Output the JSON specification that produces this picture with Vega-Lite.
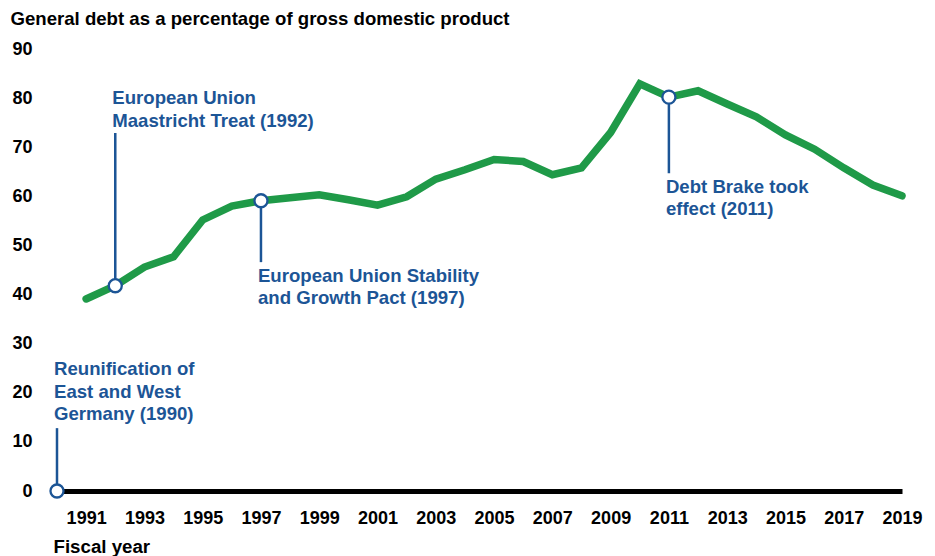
{
  "$schema": "https://vega.github.io/schema/vega-lite/v6.json",
  "autosize": "none",
  "width": 845,
  "height": 442,
  "padding": {"left": 57, "top": 49, "right": 33, "bottom": 65},
  "background": "white",
  "config": {
    "view": {"stroke": null},
    "font": "Liberation Sans",
    "text": {"font": "Liberation Sans"}
  },
  "datasets": {
    "debt": [
      {"year": 1991, "debt": 39.1}, {"year": 1992, "debt": 41.8}, {"year": 1993, "debt": 45.6},
      {"year": 1994, "debt": 47.7}, {"year": 1995, "debt": 55.2}, {"year": 1996, "debt": 58.0},
      {"year": 1997, "debt": 59.1}, {"year": 1998, "debt": 59.7}, {"year": 1999, "debt": 60.3},
      {"year": 2000, "debt": 59.3}, {"year": 2001, "debt": 58.2}, {"year": 2002, "debt": 59.9},
      {"year": 2003, "debt": 63.5}, {"year": 2004, "debt": 65.4}, {"year": 2005, "debt": 67.5},
      {"year": 2006, "debt": 67.1}, {"year": 2007, "debt": 64.4}, {"year": 2008, "debt": 65.8},
      {"year": 2009, "debt": 73.0}, {"year": 2010, "debt": 82.9}, {"year": 2011, "debt": 80.2},
      {"year": 2012, "debt": 81.5}, {"year": 2013, "debt": 78.8}, {"year": 2014, "debt": 76.2},
      {"year": 2015, "debt": 72.5}, {"year": 2016, "debt": 69.6}, {"year": 2017, "debt": 65.8},
      {"year": 2018, "debt": 62.3}, {"year": 2019, "debt": 60.1}
    ],
    "events": [
      {"year": 1990, "value": 0, "lineEnd": 12.8, "textY": 23.6, "label": "Reunification of|East and West|Germany (1990)"},
      {"year": 1992, "value": 41.8, "lineEnd": 72.9, "textY": 78.8, "label": "European Union|Maastricht Treat (1992)"},
      {"year": 1997, "value": 59.1, "lineEnd": 46.6, "textY": 42.6, "label": "European Union Stability|and Growth Pact (1997)"},
      {"year": 2011, "value": 80.2, "lineEnd": 64.7, "textY": 60.7, "label": "Debt Brake took|effect (2011)"}
    ]
  },
  "layer": [
    {
      "data": {"name": "debt"},
      "mark": {"type": "line", "color": "#1f9a48", "strokeWidth": 7.5, "strokeCap": "round", "strokeJoin": "miter"},
      "encoding": {
        "x": {
          "field": "year", "type": "quantitative",
          "scale": {"domain": [1990, 2019], "nice": false, "zero": false},
          "axis": {
            "values": [1991, 1993, 1995, 1997, 1999, 2001, 2003, 2005, 2007, 2009, 2011, 2013, 2015, 2017, 2019],
            "format": "d",
            "grid": false, "ticks": false, "tickSize": 0,
            "domain": true, "domainColor": "#000000", "domainWidth": 5, "domainCap": "butt",
            "labelFont": "Liberation Sans", "labelFontWeight": "bold", "labelFontSize": 18, "labelColor": "#000000",
            "labelPadding": 18, "labelFlush": false, "labelOverlap": false,
            "title": "Fiscal year",
            "titleFont": "Liberation Sans", "titleFontWeight": "bold", "titleFontSize": 18.7, "titleColor": "#000000",
            "titleAnchor": "start", "titleAlign": "left", "titleBaseline": "alphabetic",
            "titleX": -4, "titleY": 61
          }
        },
        "y": {
          "field": "debt", "type": "quantitative",
          "scale": {"domain": [0, 90], "nice": false},
          "axis": {
            "values": [0, 10, 20, 30, 40, 50, 60, 70, 80, 90],
            "grid": false, "ticks": false, "tickSize": 0, "domain": false,
            "labelFont": "Liberation Sans", "labelFontWeight": "bold", "labelFontSize": 18, "labelColor": "#000000",
            "labelPadding": 25, "labelBaseline": "middle",
            "title": "General debt as a percentage of gross domestic product",
            "titleFont": "Liberation Sans", "titleFontWeight": "bold", "titleFontSize": 18.6, "titleColor": "#000000",
            "titleAngle": 0, "titleAlign": "left", "titleBaseline": "alphabetic",
            "titleX": -47, "titleY": -25
          }
        }
      }
    },
    {
      "data": {"name": "events"},
      "mark": {"type": "rule", "color": "#1c5596", "strokeWidth": 2.5},
      "encoding": {
        "x": {"field": "year", "type": "quantitative"},
        "y": {"field": "value", "type": "quantitative"},
        "y2": {"field": "lineEnd"}
      }
    },
    {
      "data": {"name": "events"},
      "mark": {"type": "point", "shape": "circle", "filled": true, "fill": "white", "stroke": "#1c5596", "strokeWidth": 2.3, "size": 170, "opacity": 1},
      "encoding": {
        "x": {"field": "year", "type": "quantitative"},
        "y": {"field": "value", "type": "quantitative"}
      }
    },
    {
      "data": {"name": "events"},
      "mark": {"type": "text", "align": "left", "baseline": "alphabetic", "dx": -3, "lineBreak": "|", "lineHeight": 22.5, "font": "Liberation Sans", "fontWeight": "bold", "fontSize": 18.6, "color": "#1c5596"},
      "encoding": {
        "x": {"field": "year", "type": "quantitative"},
        "y": {"field": "textY", "type": "quantitative"},
        "text": {"field": "label", "type": "nominal"}
      }
    }
  ]
}
